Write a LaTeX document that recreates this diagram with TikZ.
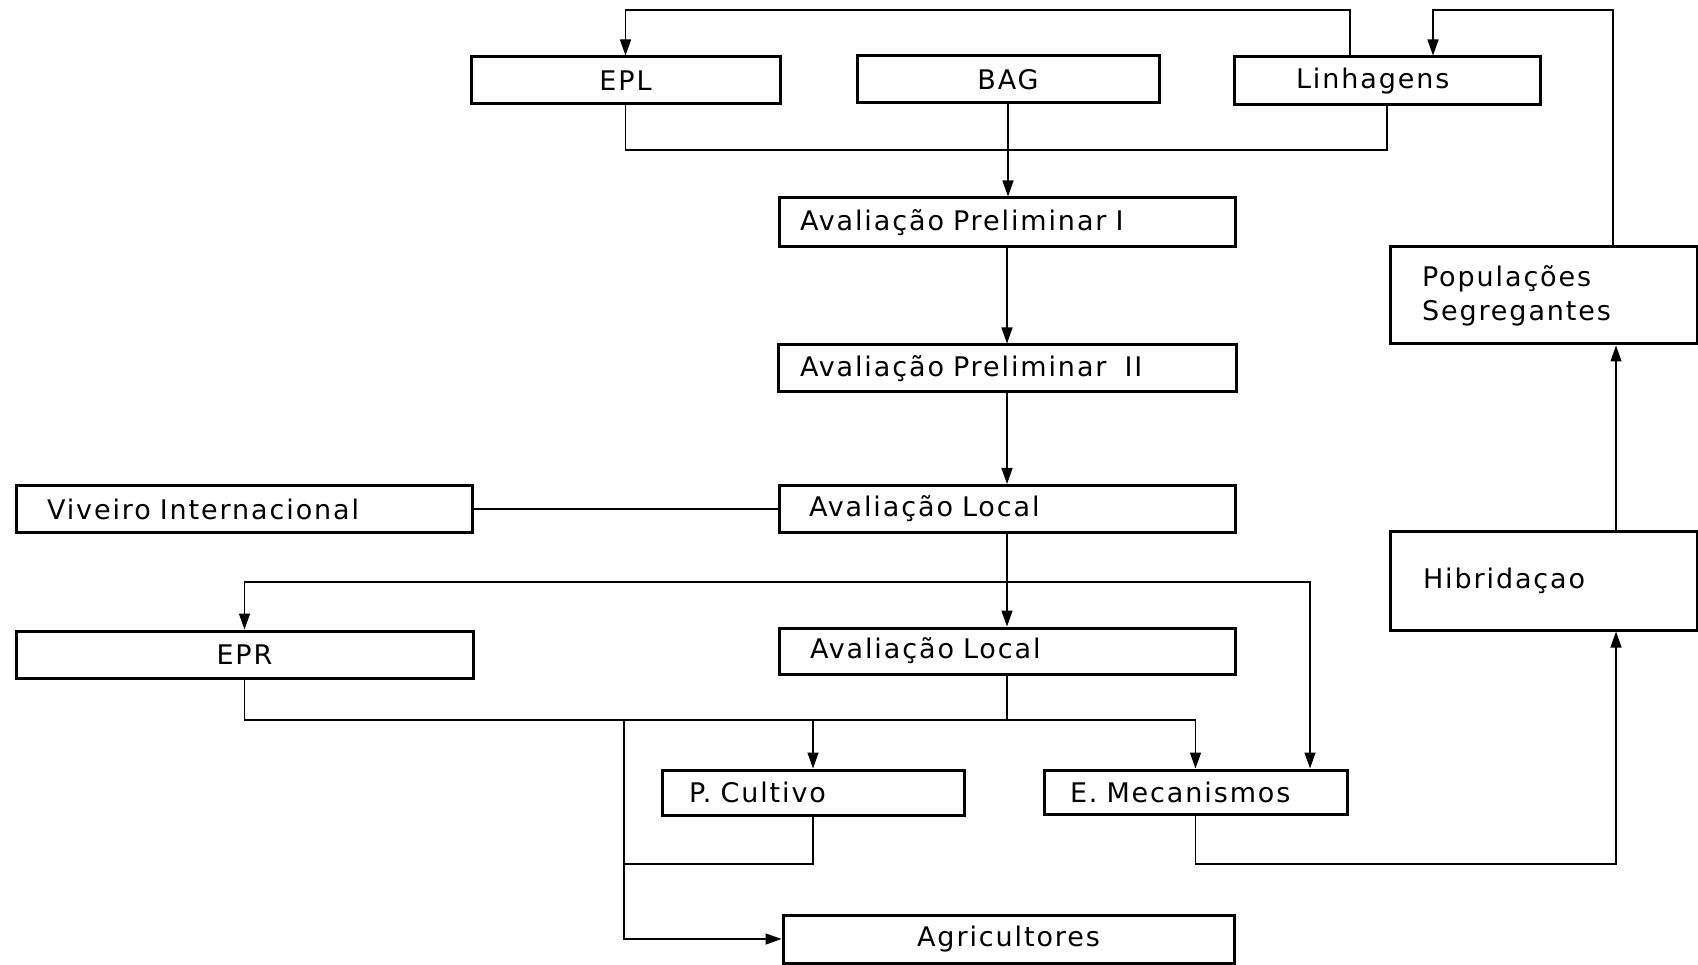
\documentclass[tikz,border=0pt]{standalone}
\usepackage{fontspec}
\setmainfont{DejaVu Sans}[LetterSpace=7,WordSpace=1.8]
\usetikzlibrary{arrows.meta}
\begin{document}
\begin{tikzpicture}[x=1pt,y=-1pt,
  box/.style={draw, line width=3pt, inner ysep=0pt, font=\fontsize{27}{34}\selectfont},
  cbox/.style={box, inner xsep=0pt, align=center},
  lbox/.style={box, align=left},
  conn/.style={line width=1.4pt},
  arr/.style={conn, -{Triangle[length=16pt,width=11pt]}}]
\useasboundingbox (0,0) rectangle (1698,965);
% boxes
\node[cbox, minimum width=309pt, minimum height=47pt] (EPL) at (625.5,80.5) {EPL};
\node[cbox, minimum width=302pt, minimum height=47pt] (BAG) at (1008,79.5) {BAG};
\node[lbox, inner xsep=62pt, text width=182pt, minimum height=48pt] (Lin) at (1387,81) {Linhagens};
\node[lbox, inner xsep=21pt, text width=414pt, minimum height=49pt] (AP1) at (1007,222.5) {Avaliação Preliminar\ I};
\node[lbox, inner xsep=22pt, text width=414pt, minimum height=47pt] (AP2) at (1007,368.5) {Avaliação Preliminar\ \ II};
\node[lbox, inner xsep=30pt, text width=396pt, minimum height=47pt] (AL1) at (1007,509) {Avaliação Local};
\node[lbox, inner xsep=31pt, text width=394pt, minimum height=47pt] (Viv) at (244,509) {Viveiro Internacional};
\node[cbox, minimum width=457pt, minimum height=47pt] (EPR) at (244.5,654.5) {EPR};
\node[lbox, inner xsep=31pt, text width=394pt, minimum height=46pt] (AL2) at (1007,651) {Avaliação Local};
\node[lbox, inner xsep=27pt, text width=248pt, minimum height=45pt] (PC) at (813,792.5) {P. Cultivo};
\node[lbox, inner xsep=26pt, text width=251pt, minimum height=44pt] (EM) at (1195.5,792) {E.\ Mecanismos};
\node[cbox, minimum width=451pt, minimum height=48pt] (Ag) at (1008.5,939) {Agricultores};
\node[lbox, inner xsep=33pt, text width=241pt, minimum height=99pt] (Hib) at (1543.5,580.5) {Hibridaçao};
\node[lbox, inner xsep=32pt, text width=243pt, minimum height=97pt] (Pop) at (1543.5,295.5) {Populações\\Segregantes};
% helper coordinates
\coordinate (ytop) at (0,10);
\coordinate (yj) at (0,150);
\coordinate (yb) at (0,582);
\coordinate (yc) at (0,720);
\coordinate (yd) at (0,864);
\coordinate (xv) at (624,0);
% connectors
\draw[arr] ([xshift=-37pt]Lin.north) -- ([xshift=-37pt]Lin.north |- ytop) -- (EPL.north |- ytop) -- (EPL.north);
\draw[arr] ([xshift=69.5pt]Pop.north) -- ([xshift=69.5pt]Pop.north |- ytop) -- ([xshift=46pt]Lin.north |- ytop) -- ([xshift=46pt]Lin.north);
\draw[conn] (EPL.south) -- (EPL.south |- yj) -- (Lin.south |- yj) -- (Lin.south);
\draw[arr] (BAG.south) -- (BAG.south |- AP1.north);
\draw[arr] (AP1.south) -- (AP2.north);
\draw[arr] (AP2.south) -- (AL1.north);
\draw[conn] (Viv.east) -- (AL1.west);
\draw[arr] (AL1.south) -- (AL2.north);
\draw[arr] (AL1.south |- yb) -- (EPR.north |- yb) -- (EPR.north);
\draw[arr] (AL1.south |- yb) -- ([xshift=114.5pt]EM.north |- yb) -- ([xshift=114.5pt]EM.north);
\draw[conn] (EPR.south) -- (EPR.south |- yc) -- (EM.north |- yc);
\draw[arr] (EM.north |- yc) -- (EM.north);
\draw[conn] (AL2.south) -- (AL2.south |- yc);
\draw[arr] (PC.north |- yc) -- (PC.north);
\draw[arr] (xv |- yc) -- (xv |- Ag.west) -- (Ag.west);
\draw[conn] (PC.south) -- (PC.south |- yd) -- (xv |- yd);
\draw[arr] (EM.south) -- (EM.south |- yd) -- ([xshift=72.5pt]Hib.south |- yd) -- ([xshift=72.5pt]Hib.south);
\draw[arr] ([xshift=72.5pt]Hib.north) -- ([xshift=72.5pt]Pop.south);
\end{tikzpicture}
\end{document}
